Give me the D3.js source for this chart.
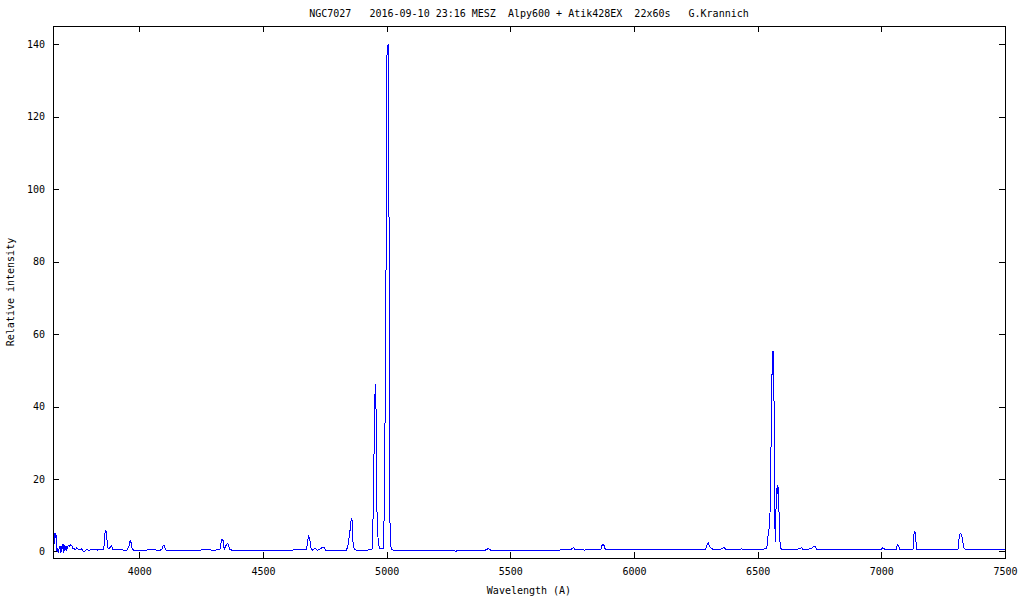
<!DOCTYPE html>
<html>
<head>
<meta charset="utf-8">
<script src="https://cdn.jsdelivr.net/npm/d3@7"></script>
<style>
  body { margin: 0; background: #fff; }
  text { font-family: "DejaVu Sans Mono", monospace; font-size: 10px; fill: #000; }
</style>
</head>
<body>
<div id="chart"></div>
<script>

// spectrum NGC7027
var wavelength = [
  3651, 3653, 3655, 3659, 3662, 3664, 3666, 3669, 3672, 3676, 3679, 3683, 3687, 3690, 3693, 3695, 3698,
  3704, 3706, 3709, 3713, 3717, 3723, 3727, 3731, 3736, 3740, 3747, 3753, 3760, 3767, 3773, 3780, 3787,
  3794, 3801, 3815, 3830, 3845, 3855, 3858, 3862, 3868, 3870, 3874, 3881, 3888, 3892, 3905, 3920, 3935,
  3950, 3958, 3963, 3967, 3971, 3976, 3990, 4010, 4030, 4050, 4070, 4083, 4093, 4097, 4101, 4106, 4110,
  4130, 4150, 4170, 4190, 4210, 4230, 4250, 4270, 4290, 4310, 4326, 4333, 4339, 4343, 4349, 4357, 4362,
  4366, 4380, 4400, 4420, 4440, 4460, 4480, 4500, 4520, 4540, 4560, 4580, 4600, 4620, 4640, 4660, 4676,
  4680, 4684, 4688, 4692, 4695, 4700, 4711, 4720, 4730, 4740, 4748, 4754, 4780, 4800, 4820, 4838, 4844,
  4851, 4855, 4859, 4862, 4864, 4869, 4875, 4900, 4925, 4940, 4943, 4947, 4952, 4955, 4958, 4960, 4966,
  4972, 4980, 4986, 4991, 4997, 5001, 5006, 5009, 5012, 5014, 5020, 5026, 5040, 5100, 5150, 5200, 5250,
  5280, 5300, 5350, 5400, 5411, 5420, 5480, 5520, 5550, 5600, 5650, 5700, 5745, 5755, 5762, 5800, 5850,
  5866, 5872, 5878, 5884, 5900, 5950, 6000, 6050, 6100, 6150, 6200, 6250, 6290, 6296, 6300, 6306, 6312,
  6320, 6350, 6360, 6366, 6372, 6400, 6430, 6434, 6440, 6480, 6520, 6535, 6539, 6544, 6548, 6552, 6556,
  6560, 6564, 6566, 6568, 6571, 6575, 6579, 6581, 6583, 6586, 6589, 6593, 6597, 6620, 6660, 6670, 6678,
  6684, 6700, 6712, 6718, 6726, 6733, 6738, 6760, 6800, 6850, 6900, 6950, 7000, 7005, 7010, 7015, 7040,
  7060, 7065, 7070, 7075, 7110, 7128, 7131, 7135, 7138, 7141, 7144, 7200, 7250, 7300, 7310, 7314, 7318,
  7322, 7326, 7330, 7334, 7340, 7400, 7450, 7500
];

var intensity = [
  0.1, -1.3, 1.9, 5.1, 3.8, 4.6, 0.1, 1.0, -0.3, 0.8, 1.6, -0.4, 1.3, 1.9, -0.3, 2.1, 0.1,
  1.5, 0.6, 1.0, 1.6, 1.5, 1.9, 1.6, 0.8, 1.0, 0.4, 1.0, 0.6, 0.4, 0.7, 0.1, 0.1, 0.6,
  0.4, 0.4, 0.6, 0.4, 0.5, 0.5, 1.9, 5.8, 5.3, 2.4, 0.7, 1.0, 1.5, 0.6, 0.4, 0.5, 0.4,
  0.4, 1.5, 3.0, 2.4, 0.7, 0.4, 0.4, 0.3, 0.4, 0.5, 0.4, 0.3, 0.8, 1.7, 1.7, 0.6, 0.3,
  0.3, 0.4, 0.3, 0.4, 0.3, 0.4, 0.4, 0.5, 0.4, 0.4, 0.6, 3.3, 3.0, 0.6, 1.5, 2.2, 1.5,
  0.5, 0.3, 0.3, 0.3, 0.2, 0.3, 0.3, 0.3, 0.2, 0.3, 0.3, 0.4, 0.4, 0.4, 0.5, 0.5, 0.6,
  2.4, 4.2, 3.6, 2.0, 0.6, 0.4, 0.8, 0.3, 0.6, 1.1, 1.0, 0.3, 0.3, 0.3, 0.4, 0.4, 1.9,
  5.1, 8.3, 9.0, 8.0, 2.4, 0.7, 0.4, 0.4, 0.4, 0.5, 1.2, 17.8, 42.4, 46.2, 35.8, 12.5, 2.2,
  0.8, 0.8, 0.9, 12.2, 70.5, 136.7, 140, 105, 28.3, 2.2, 0.6, 0.4, 0.4, 0.35, 0.4, 0.35, 0.35,
  0.1, 0.35, 0.35, 0.4, 0.8, 0.4, 0.35, 0.3, 0.35, 0.35, 0.35, 0.4, 0.5, 1.1, 0.5, 0.4, 0.5,
  0.6, 1.9, 1.8, 0.6, 0.5, 0.5, 0.5, 0.5, 0.5, 0.5, 0.5, 0.5, 0.6, 2.0, 2.4, 1.4, 0.9,
  0.6, 0.6, 1.0, 1.0, 0.6, 0.5, 0.5, 0.9, 0.5, 0.5, 0.6, 0.8, 1.9, 6.0, 6.4, 15.2, 42.3,
  55.1, 55.1, 42.7, 16, 2.5, 14, 18.4, 16, 17.8, 12, 3.3, 1.0, 0.55, 0.5, 0.5, 0.9, 1.0,
  0.5, 0.5, 0.8, 0.9, 1.3, 1.3, 0.6, 0.5, 0.5, 0.5, 0.5, 0.5, 0.5, 1.0, 0.9, 0.5, 0.5,
  0.6, 1.9, 1.4, 0.5, 0.5, 0.6, 4.5, 5.4, 5.2, 1.5, 0.5, 0.5, 0.5, 0.5, 0.6, 3.5, 4.9,
  4.9, 4.0, 2.5, 1.0, 0.5, 0.5, 0.5, 0.5
];

var xTicks = [4000, 4500, 5000, 5500, 6000, 6500, 7000, 7500];
var yTicks = [0, 20, 40, 60, 80, 100, 120, 140];

var title = "NGC7027   2016-09-10 23:16 MESZ  Alpy600 + Atik428EX  22x60s   G.Krannich";
var xTitle = "Wavelength (A)";
var yTitle = "Relative intensity";

var width = 1024, height = 600;
var margin = {top: 26, right: 19, bottom: 42, left: 53};
var plotW = width - margin.left - margin.right,
    plotH = height - margin.top - margin.bottom;

var svg = d3.select("#chart")
  .append("svg")
    .attr("width", width)
    .attr("height", height);

var g = svg.append("g")
    .attr("transform", "translate(" + margin.left + "," + margin.top + ")");

var x = d3.scaleLinear()
    .domain([3651, 7500])
    .range([0, plotW]);

var y = d3.scaleLinear()
    .domain([-1.8, 145])
    .range([plotH, 0]);

// ticks point inwards on all four sides, like gnuplot
g.append("g")
    .attr("transform", "translate(0," + plotH + ")")
    .call(d3.axisBottom(x).tickValues(xTicks).tickFormat(d3.format("d"))
      .tickSizeInner(-6).tickSizeOuter(0).tickPadding(10));

g.append("g")
    .call(d3.axisTop(x).tickValues(xTicks).tickFormat("")
      .tickSizeInner(-6).tickSizeOuter(0));

g.append("g")
    .call(d3.axisLeft(y).tickValues(yTicks).tickFormat(d3.format("d"))
      .tickSizeInner(-6).tickSizeOuter(0).tickPadding(8));

g.append("g")
    .attr("transform", "translate(" + plotW + ",0)")
    .call(d3.axisRight(y).tickValues(yTicks).tickFormat("")
      .tickSizeInner(-6).tickSizeOuter(0));

g.selectAll(".domain").remove();
g.selectAll(".tick line").attr("stroke", "#000").attr("shape-rendering", "crispEdges");
g.selectAll(".tick text").attr("font-family", "DejaVu Sans Mono").attr("font-size", 10).attr("fill", "#000");

// the spectrum, drawn aliased like the png terminal
var data = wavelength.map(function (d, i) { return [d, intensity[i]]; });

g.append("path")
    .datum(data)
    .attr("fill", "none")
    .attr("stroke", "#0000ff")
    .attr("stroke-width", 1)
    .attr("shape-rendering", "crispEdges")
    .attr("d", d3.line()
      .x(function (d) { return x(d[0]); })
      .y(function (d) { return y(d[1]); }));

// border
g.append("rect")
    .attr("x", 0.5)
    .attr("y", 0.5)
    .attr("width", plotW)
    .attr("height", plotH)
    .attr("fill", "none")
    .attr("stroke", "#000")
    .attr("shape-rendering", "crispEdges");

svg.append("text")
    .attr("x", margin.left + plotW / 2)
    .attr("y", 17)
    .attr("text-anchor", "middle")
    .attr("xml:space", "preserve")
    .style("white-space", "pre")
    .text(title);

svg.append("text")
    .attr("x", margin.left + plotW / 2)
    .attr("y", 594)
    .attr("text-anchor", "middle")
    .text(xTitle);

svg.append("text")
    .attr("text-anchor", "middle")
    .attr("transform", "translate(14," + (margin.top + plotH / 2) + ") rotate(-90)")
    .text(yTitle);

</script>
</body>
</html>
